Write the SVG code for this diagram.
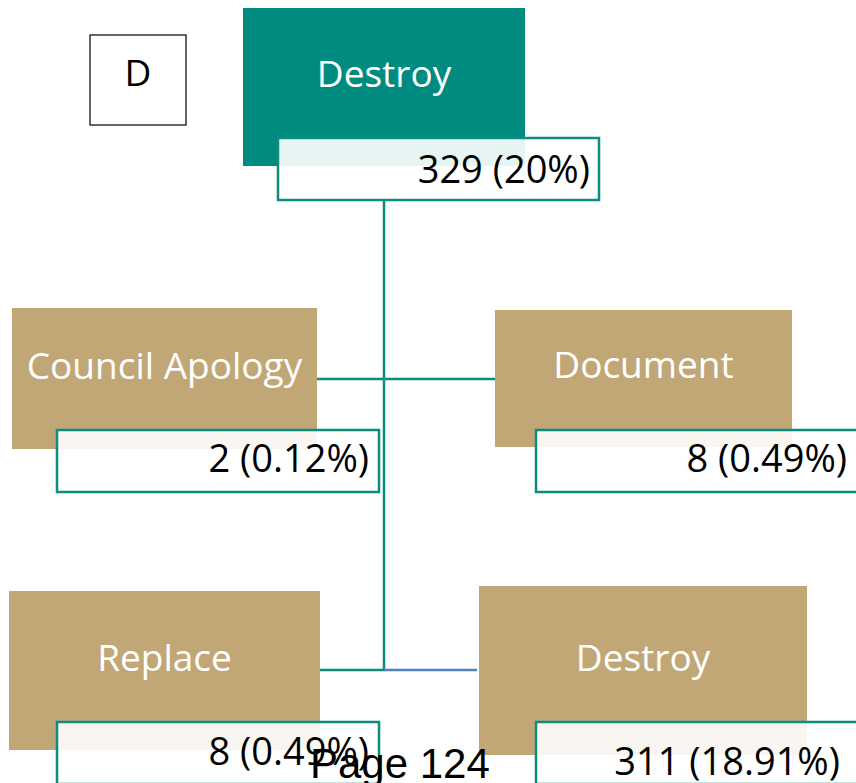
<svg xmlns="http://www.w3.org/2000/svg" width="856" height="783" viewBox="0 0 856 783">
<style>
.t{font-family:"Open Sans","Noto Sans","Liberation Sans",sans-serif;font-size:37px}
.w{fill:#ffffff;text-anchor:middle}
.n{fill:#000000;text-anchor:end;font-size:38px}
.tan{fill:#C2A776}
.lab{fill:#ffffff;fill-opacity:0.9;stroke:#0E8C80;stroke-width:2.5}
.con{fill:none;stroke:#0E8C80;stroke-width:2.5}
</style>
<rect width="856" height="783" fill="#ffffff"/>
<g id="d-box">
<rect x="90" y="35" width="96" height="90" fill="#ffffff" stroke="#000000" stroke-width="1.2"/>
<text class="t" x="138" y="86" text-anchor="middle" fill="#000000">D</text>
</g>
<g id="connectors">
<line class="con" x1="384" y1="200" x2="384" y2="670"/>
<line class="con" x1="317" y1="379" x2="495" y2="379"/>
<line class="con" x1="320" y1="670" x2="385" y2="670"/>
<line x1="384" y1="670" x2="477" y2="670" stroke="#4F81BD" stroke-width="2.5"/>
</g>
<g id="root">
<rect x="243" y="8" width="282" height="158" fill="#008B80"/>
<text class="t w" x="384" y="87">Destroy</text>
<rect class="lab" x="278" y="138" width="321" height="62"/>
<text class="t n" x="590" y="183">329 (20%)</text>
</g>
<g id="council-apology">
<rect class="tan" x="12" y="308" width="305" height="141"/>
<text class="t w" x="164.5" y="379">Council Apology</text>
<rect class="lab" x="57" y="430" width="322" height="62"/>
<text class="t n" x="369" y="472">2 (0.12%)</text>
</g>
<g id="document">
<rect class="tan" x="495" y="310" width="297" height="137"/>
<text class="t w" x="643.5" y="378">Document</text>
<rect class="lab" x="536" y="430" width="322" height="62"/>
<text class="t n" x="847" y="472">8 (0.49%)</text>
</g>
<g id="replace">
<rect class="tan" x="9" y="591" width="311" height="159"/>
<text class="t w" x="164.5" y="671">Replace</text>
<rect class="lab" x="57" y="722" width="322" height="62"/>
<text class="t n" x="369" y="765">8 (0.49%)</text>
</g>
<g id="destroy-child">
<rect class="tan" x="479" y="586" width="328" height="169"/>
<text class="t w" x="643" y="671">Destroy</text>
<rect class="lab" x="536" y="722" width="322" height="62"/>
<text class="t n" x="840" y="775">311 (18.91%)</text>
</g>
<text x="310" y="778" font-family="'Liberation Sans',Arial,sans-serif" font-size="42" fill="#000000">Page 124</text>
</svg>
